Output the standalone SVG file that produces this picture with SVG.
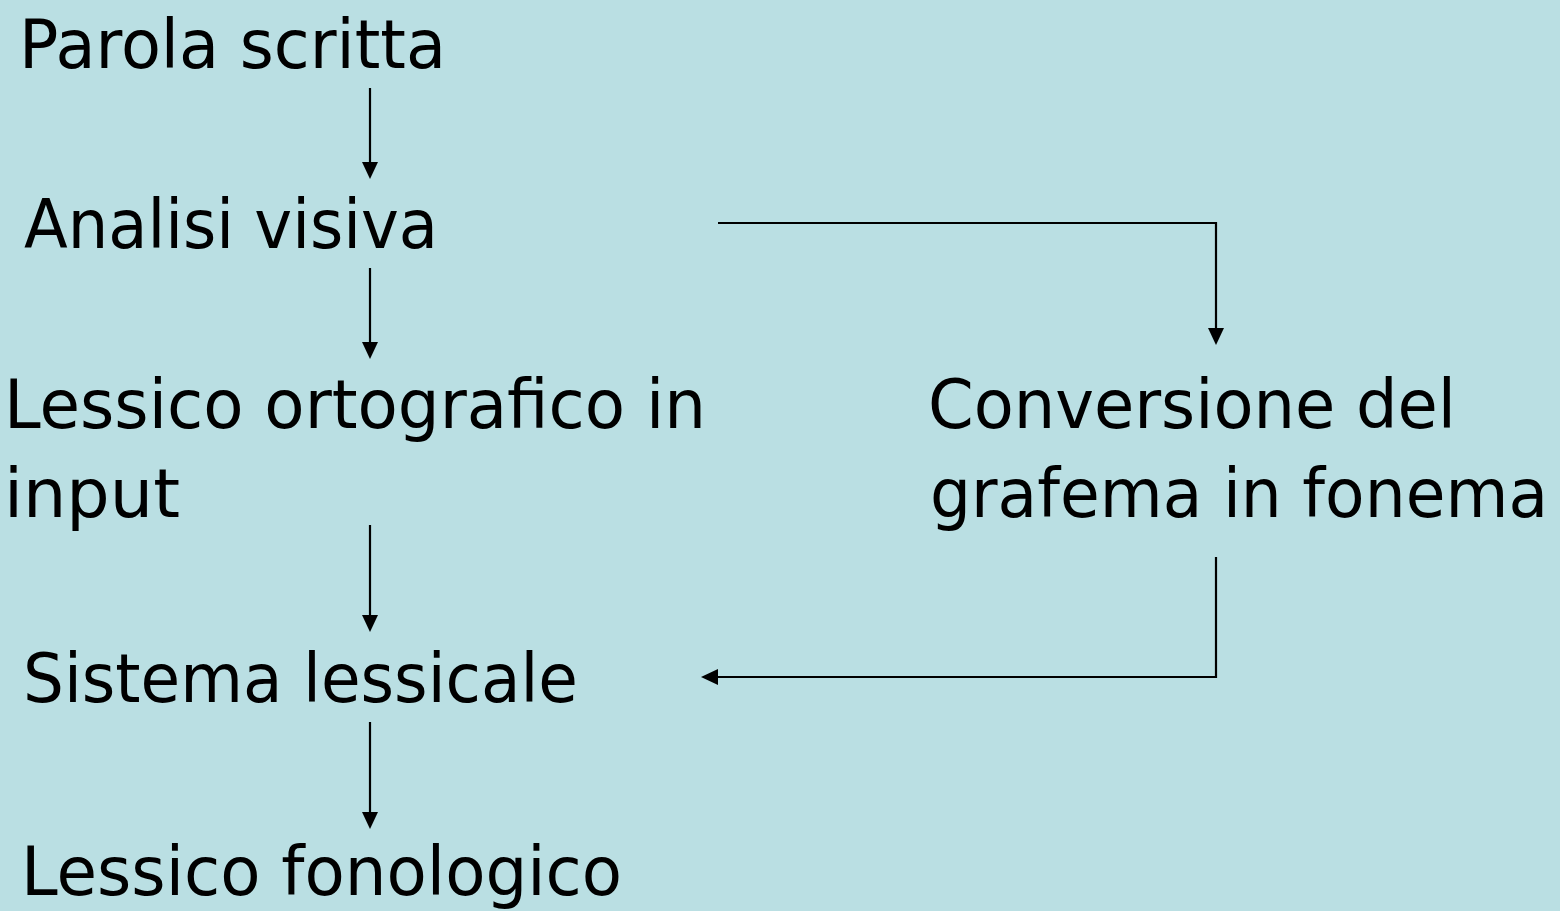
<svg xmlns="http://www.w3.org/2000/svg" width="1560" height="911" viewBox="0 0 1560 911">
<defs>
<style>
.t{font-family:"DejaVu Sans","Verdana",sans-serif;font-size:68px;fill:#000}
.c{fill:none;stroke:#000;stroke-width:2.2}
.h{fill:#000;stroke:none}
</style>
<path id="ahd" d="M-8,-17 L8,-17 L0,0 z"/>
</defs>
<rect width="1560" height="911" fill="#badfe3"/>
<g id="connectors">
<line class="c" x1="370" y1="88" x2="370" y2="165"/>
<use href="#ahd" class="h" x="370" y="179"/>
<line class="c" x1="370" y1="268" x2="370" y2="345"/>
<use href="#ahd" class="h" x="370" y="359"/>
<line class="c" x1="370" y1="525" x2="370" y2="618"/>
<use href="#ahd" class="h" x="370" y="632"/>
<line class="c" x1="370" y1="722" x2="370" y2="815"/>
<use href="#ahd" class="h" x="370" y="829"/>
<polyline class="c" points="718,223 1216,223 1216,331"/>
<use href="#ahd" class="h" x="1216" y="345"/>
<polyline class="c" points="1216,557 1216,677 715,677"/>
<use href="#ahd" class="h" transform="translate(701,677) rotate(90)"/>
</g>
<g id="n1"><text class="t" x="19" y="68" textLength="427" lengthAdjust="spacingAndGlyphs">Parola scritta</text></g>
<g id="n2"><text class="t" x="24" y="248" textLength="414" lengthAdjust="spacingAndGlyphs">Analisi visiva</text></g>
<g id="n3"><text class="t" x="4" y="428" textLength="702" lengthAdjust="spacingAndGlyphs">Lessico ortografico in</text><text class="t" x="4" y="517" textLength="176" lengthAdjust="spacingAndGlyphs">input</text></g>
<g id="n4"><text class="t" x="928" y="428" textLength="528" lengthAdjust="spacingAndGlyphs">Conversione del</text><text class="t" x="930" y="517" textLength="618" lengthAdjust="spacingAndGlyphs">grafema in fonema</text></g>
<g id="n5"><text class="t" x="23" y="702" textLength="555" lengthAdjust="spacingAndGlyphs">Sistema lessicale</text></g>
<g id="n6"><text class="t" x="21" y="895" textLength="601" lengthAdjust="spacingAndGlyphs">Lessico fonologico</text></g>
</svg>
